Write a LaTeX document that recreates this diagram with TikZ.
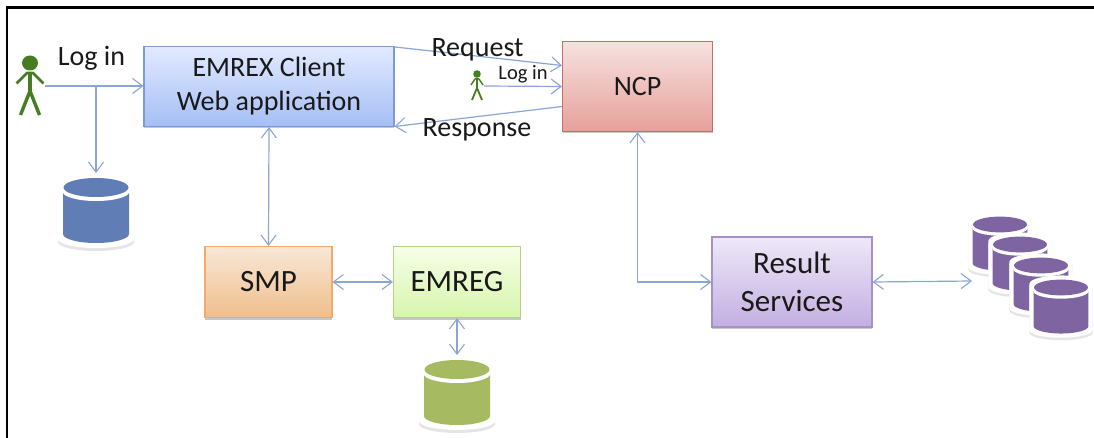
\documentclass[tikz,border=0pt]{standalone}
\usepackage{fontspec}
\setmainfont{Carlito}
\usetikzlibrary{arrows.meta,shadows,calc}
\definecolor{lnk}{RGB}{140,165,212}
\definecolor{txt}{RGB}{25,25,25}
\definecolor{grn}{RGB}{70,125,35}
\definecolor{dbblue}{RGB}{96,125,182}
\definecolor{dbgreen}{RGB}{166,186,98}
\definecolor{dbpurple}{RGB}{126,100,160}
\definecolor{cliA}{RGB}{226,234,255}\definecolor{cliB}{RGB}{165,190,245}\definecolor{cliD}{RGB}{125,155,210}
\definecolor{ncpA}{RGB}{246,226,224}\definecolor{ncpB}{RGB}{231,160,155}\definecolor{ncpD}{RGB}{195,110,105}
\definecolor{smpA}{RGB}{248,232,214}\definecolor{smpB}{RGB}{240,190,140}\definecolor{smpD}{RGB}{240,170,110}
\definecolor{emgA}{RGB}{246,255,232}\definecolor{emgB}{RGB}{215,245,172}\definecolor{emgD}{RGB}{180,210,130}
\definecolor{resA}{RGB}{238,232,248}\definecolor{resB}{RGB}{195,175,225}\definecolor{resD}{RGB}{165,145,195}
\tikzset{
 box/.style={draw=#1,line width=1.1pt,inner sep=0pt,align=center,text=txt,
   drop shadow={shadow xshift=0pt,shadow yshift=-2pt,opacity=.22,fill=black}},
 bigtext/.style={font=\fontsize{31}{38}\selectfont},
 link/.style={draw=lnk,line width=1.2pt},
 oneway/.style={link,-{Straight Barb[length=10pt,width=15pt,line width=1.1pt]}},
 twoway/.style={link,{Straight Barb[length=10pt,width=15pt,line width=1.1pt]}-{Straight Barb[length=10pt,width=15pt,line width=1.1pt]}},
 lbl/.style={text=txt,inner sep=0pt},
 db/.pic={
   \fill[black!10] (-38,-25) arc[start angle=180,end angle=360,x radius=38,y radius=10] -- (38,31) arc[start angle=0,end angle=180,x radius=38,y radius=9] -- cycle;
   \fill[white] (-38,-28) arc[start angle=180,end angle=360,x radius=38,y radius=10] -- (38,28) arc[start angle=0,end angle=180,x radius=38,y radius=9] -- cycle;
   \fill[#1] (-33,-19.5) -- (33,-19.5) -- (33,23) arc[start angle=0,end angle=180,x radius=33,y radius=9]  -- cycle;
   \fill[white] (0,-19.5) ellipse[x radius=33.5,y radius=9.5];
   \fill[#1] (0,-23.5) ellipse[x radius=32.5,y radius=9.5];
   \coordinate (-top) at (0,-38);
 },
 person/.pic={
   \fill[grn] (0,-23) ellipse[x radius=8,y radius=7.5];
   \draw[grn,line width=3.6pt] (0,-14) -- (0,6);
   \draw[grn,line width=2.8pt,line join=round] (-13.5,-2.5) -- (-3,-13) -- (3,-13) -- (13.5,-2.5);
   \draw[grn,line width=3.4pt,line join=round] (-9.5,29) -- (0,5) -- (9.5,29);
   \coordinate (-hand) at (15,0);
 },
 smallperson/.pic={
   \fill[grn] (0,-12) circle[radius=3.8];
   \draw[grn,line width=1.9pt] (0,-8) -- (0,3);
   \draw[grn,line width=1.5pt,line join=round] (-6,-1) -- (-2,-7) -- (2,-7) -- (6,-1);
   \draw[grn,line width=1.8pt,line join=round] (-5,14) -- (0,2) -- (5,14);
   \coordinate (-hand) at (7,0);
 }
}
\begin{document}
\begin{tikzpicture}[x=1pt,y=-1pt]
\useasboundingbox (0,0) rectangle (1094,438);
\fill[white] (0,0) rectangle (1094,438);
\draw[black,line width=2.2pt] (7,438) -- (7,7.5) -- (1094,7.5);
% boxes
\node[box=cliD,top color=cliA,bottom color=cliB,minimum width=250pt,minimum height=80pt,font=\fontsize{28}{34}\selectfont] (client) at (269,86.5) {\raisebox{-2pt}{EMREX Client}\\\raisebox{-2pt}{Web application}};
\node[box=ncpD,top color=ncpA,bottom color=ncpB,minimum width=150pt,minimum height=90pt,font=\fontsize{28}{34}\selectfont] (ncp) at (637.5,86.5) {NCP};
\node[box=smpD,top color=smpA,bottom color=smpB,minimum width=127pt,minimum height=71pt,bigtext] (smp) at (268.5,282) {SMP};
\node[box=emgD,top color=emgA,bottom color=emgB,minimum width=127pt,minimum height=71pt,bigtext] (emreg) at (457,282) {EMREG};
\node[box=resD,top color=resA,bottom color=resB,minimum width=160pt,minimum height=90pt,bigtext] (result) at (792,282) {Result\\Services};
% databases
\pic (d1) at (96,211) {db=dbblue};
\pic (d2) at (457,393) {db=dbgreen};
\pic[scale=.83] (p1) at (1000,244) {db=dbpurple};
\pic[scale=.83] (p2) at (1020,264) {db=dbpurple};
\pic[scale=.83] (p3) at (1041,285) {db=dbpurple};
\pic[scale=.83] (p4) at (1061,307) {db=dbpurple};
% people
\pic (u1) at (30,86) {person};
\pic (u2) at (477,86) {smallperson};
% connectors
\coordinate (req0) at ($(client.north east)+(0,1)$);
\coordinate (req1) at ($(ncp.west)+(0,-21)$);
\coordinate (res0) at ($(ncp.west)+(0,20)$);
\coordinate (res1) at ($(client.east)+(0,40)$);
\coordinate (branch) at (96,86);
\coordinate (rs) at (972,281);
\coordinate (corner) at (ncp.south |- result.west);
\draw[oneway] (u1-hand) -- (client.west |- u1-hand);
\draw[oneway] (branch) -- (d1-top);
\draw[oneway] (req0) -- (req1);
\draw[oneway] (u2-hand) -- (ncp.west);
\draw[oneway] (res0) -- (res1);
\draw[twoway] (client.south) -- (smp.north);
\draw[twoway] (smp.east) -- (emreg.west);
\draw[twoway] (emreg.south) -- (d2-top);
\draw[twoway] (ncp.south) -- (corner) -- (result.west);
\draw[twoway] (result.east) -- (rs);
% labels
\node[lbl,font=\fontsize{28}{30}\selectfont] (l1) at (91.5,58.5) {Log in};
\node[lbl,font=\fontsize{28}{30}\selectfont] (l2) at (477.5,50) {Request};
\node[lbl,font=\fontsize{28}{30}\selectfont] (l3) at (477,130) {Response};
\node[lbl,font=\fontsize{20.5}{22}\selectfont] (l4) at (523,74) {Log in};
\end{tikzpicture}
\end{document}
